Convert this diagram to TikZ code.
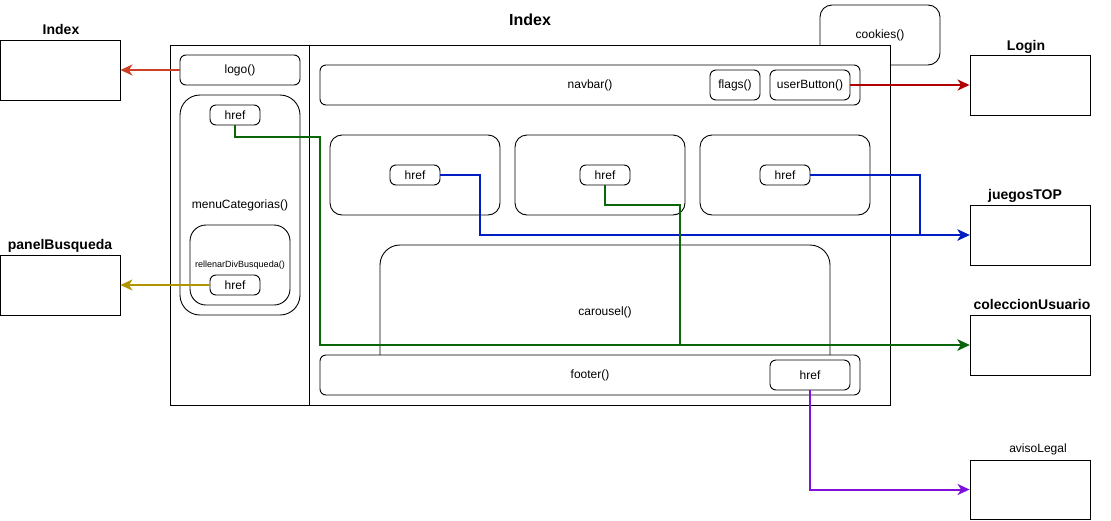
\documentclass[tikz,border=0pt]{standalone}
\usepackage{fontspec}
\setmainfont{Liberation Sans}
\usetikzlibrary{arrows.meta,positioning}

\definecolor{linkOrange}{HTML}{CC4125}
\definecolor{linkRed}{HTML}{B20000}
\definecolor{linkBlue}{HTML}{001DC4}
\definecolor{linkGreen}{HTML}{0B660B}
\definecolor{linkGold}{HTML}{B09500}
\definecolor{linkPurple}{HTML}{7F10D8}

\tikzset{
  frame/.style={draw, fill=white, inner sep=0pt},
  rbox/.style={draw, fill=white, rounded corners=6pt, inner sep=0pt},
  hrefbox/.style={rbox, minimum width=50pt, minimum height=20pt},
  pagebox/.style={draw, fill=white, inner sep=0pt, minimum width=120pt, minimum height=60pt},
  ttl/.style={inner sep=0pt, anchor=base, font=\bfseries\fontsize{14}{16}\selectfont},
  link/.style={line width=2pt, -{Stealth[length=12pt,width=11pt,inset=3.5pt]}}
}

\begin{document}
\begin{tikzpicture}[x=1pt, y=-1pt, line width=0.9pt, font=\fontsize{12}{14}\selectfont]
\useasboundingbox (0,0) rectangle (1111,520);

% cookies sits behind the page frame
\node[rbox, rounded corners=12pt, minimum width=120pt, minimum height=60pt] (cookies) at (880,35) {cookies()};

% page frame
\node[frame, minimum width=720pt, minimum height=360pt] (main) at (530,225) {};
\draw ([xshift=140pt]main.north west) -- ([xshift=140pt]main.south west);
\node[ttl, font=\bfseries\fontsize{16}{18}\selectfont] (mainT) at (530,25) {Index};

% left column
\node[rbox, minimum width=120pt, minimum height=30pt] (logo) at (240,70) {logo()};
\node[rbox, rounded corners=20pt, minimum width=120pt, minimum height=220pt] (menu) at (240,205) {menuCategorias()};
\node[hrefbox] (hMenu) at (235,115) {href};
\node[rbox, rounded corners=16pt, minimum width=100pt, minimum height=80pt, font=\fontsize{9}{10}\selectfont] (rell) at (240,265) {rellenarDivBusqueda()};
\node[hrefbox] (hRell) at (235,285) {href};

% navbar
\node[rbox, minimum width=540pt, minimum height=40pt] (navbar) at (590,85) {navbar()};
\node[rbox, minimum width=50pt, minimum height=30pt] (flags) at (735,85) {flags()};
\node[rbox, minimum width=80pt, minimum height=30pt] (userBtn) at (810,85) {userButton()};

% cards
\foreach \cx/\nm in {415/cardA, 600/cardB, 785/cardC}
  \node[rbox, rounded corners=12pt, minimum width=170pt, minimum height=80pt] (\nm) at (\cx,175) {};
\node[hrefbox] (hA) at (415,175) {href};
\node[hrefbox] (hB) at (605,175) {href};
\node[hrefbox] (hC) at (785,175) {href};

% carousel and footer
\node[rbox, rounded corners=20pt, minimum width=450pt, minimum height=135pt] (carousel) at (605,312.5) {carousel()};
\node[rbox, minimum width=540pt, minimum height=40pt] (footer) at (590,375) {footer()};
\node[rbox, minimum width=80pt, minimum height=30pt] (hFoot) at (810,375) {href};

% target pages
\node[pagebox] (idxL) at (60,70) {};
\node[ttl] (idxLT) at (61,34) {Index};
\node[pagebox] (panel) at (60,285) {};
\node[ttl] (panelT) at (60,249) {panelBusqueda};
\node[pagebox] (login) at (1030,85) {};
\node[ttl] (loginT) at (1026,50) {Login};
\node[pagebox] (jTop) at (1030,235) {};
\node[ttl] (jTopT) at (1025,199) {juegosTOP};
\node[pagebox] (colU) at (1030,345) {};
\node[ttl] (colUT) at (1032,309) {coleccionUsuario};
\node[pagebox, minimum height=59pt] (aviso) at (1030,489.5) {};
\node[inner sep=0pt, anchor=base] (avisoT) at (1038,452) {avisoLegal};

% links
\draw[link, linkOrange] (logo.west) -- (idxL.east);
\draw[link, linkRed] (userBtn.east) -- (login.west);
\draw[link, linkGold] (hRell.west) -- (panel.east);
\draw[link, linkBlue] (hA.east) -- ++(40,0) |- (jTop.west);
\draw[link, linkBlue] (hC.east) -- ++(110,0) |- (jTop.west);
\draw[link, linkGreen] (hMenu.south) -- ++(0,12) -- ++(85,0) |- (colU.west);
\draw[link, linkGreen] (hB.south) -- ++(0,20) -- ++(75,0) |- (colU.west);
\draw[link, linkPurple] (hFoot.south) |- (aviso.west);

\end{tikzpicture}
\end{document}
